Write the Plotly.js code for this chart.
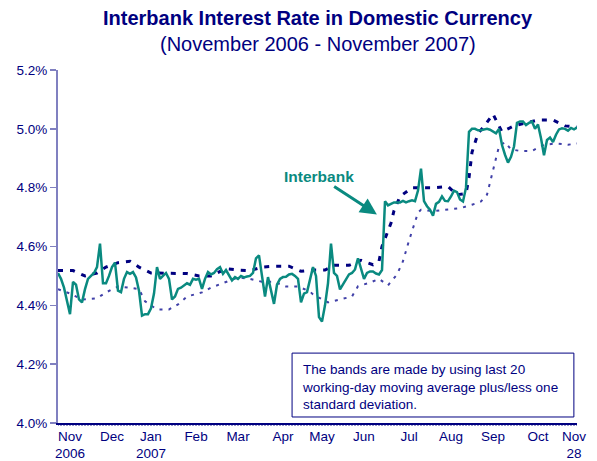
<!DOCTYPE html>
<html><head><meta charset="utf-8">
<script src="https://cdn.plot.ly/plotly-3.0.1.min.js"></script>
<style>html,body{margin:0;padding:0;background:#fff}#chart{width:597px;height:461px}</style>
</head><body><div id="chart"></div>
<script>
// Interbank rate, one reading per working-day step (Nov 2006 - Nov 28 2007), %
const interbank = [
 4.51,4.49,4.46,4.42,4.37,4.48,4.47,4.42,4.41,4.455,
 4.49,4.50,4.51,4.53,4.61,4.475,4.475,4.50,4.53,4.545,
 4.45,4.445,4.49,4.513,4.507,4.513,4.495,4.45,4.365,4.37,
 4.37,4.39,4.44,4.53,4.49,4.50,4.51,4.49,4.42,4.43,
 4.456,4.46,4.467,4.475,4.47,4.49,4.487,4.49,4.456,4.49,
 4.513,4.505,4.51,4.523,4.53,4.507,4.52,4.50,4.485,4.496,
 4.49,4.50,4.495,4.498,4.50,4.51,4.56,4.57,4.50,4.43,
 4.496,4.455,4.405,4.47,4.49,4.496,4.497,4.505,4.507,4.50,
 4.49,4.41,4.44,4.445,4.49,4.53,4.50,4.36,4.345,4.40,
 4.475,4.61,4.51,4.50,4.454,4.47,4.49,4.505,4.51,4.522,
 4.56,4.52,4.49,4.51,4.515,4.515,4.508,4.505,4.52,4.754,
 4.74,4.745,4.75,4.75,4.75,4.755,4.75,4.754,4.757,4.754,
 4.79,4.865,4.754,4.737,4.725,4.705,4.745,4.752,4.77,4.755,
 4.754,4.77,4.79,4.785,4.76,4.753,4.80,4.99,5.0,5.0,
 4.995,4.995,4.998,5.0,4.997,4.99,4.985,5.0,4.945,4.912,
 4.885,4.905,4.94,5.02,5.025,5.025,5.013,5.02,5.025,5.0,
 5.015,4.968,4.91,4.962,4.97,4.955,4.98,4.998,5.002,5.0,
 4.994,5.003,4.998,5.005
];
// Upper band (moving average + 1 sd): day step, value
const upperDay  = [0,5,9,13,16,20,24,27,31,35,39,43,47,51,56,60,64,68,72,77,81,85,89,92,97,101,105,107,108,111,112,114,118,121,126,130,133,136,137,138,140,142,145,148,152,156,160,165,169,173];
const upperBand = [4.518,4.518,4.50,4.51,4.53,4.545,4.55,4.53,4.51,4.51,4.508,4.508,4.50,4.50,4.525,4.52,4.518,4.53,4.533,4.533,4.516,4.52,4.52,4.536,4.536,4.553,4.538,4.55,4.60,4.68,4.722,4.77,4.80,4.80,4.80,4.804,4.776,4.78,4.834,4.92,4.985,5.008,5.05,4.99,5.01,5.02,5.03,5.03,5.01,5.006];
// Lower band (moving average - 1 sd)
const lowerDay  = [0,4,8,13,16,20,24,27,29,33,37,40,43,48,51,56,60,64,68,72,76,80,84,85,90,94,98,100,104,107,110,113,115,117,119,120,121,125,129,134,138,141,143,144,145,146,147,149,151,154,158,162,166,170,173];
const lowerBand = [4.455,4.44,4.42,4.424,4.444,4.464,4.46,4.455,4.414,4.386,4.386,4.403,4.43,4.444,4.46,4.478,4.495,4.49,4.48,4.48,4.464,4.464,4.447,4.437,4.41,4.42,4.43,4.465,4.477,4.49,4.468,4.505,4.55,4.62,4.68,4.715,4.725,4.72,4.725,4.73,4.742,4.753,4.776,4.82,4.86,4.90,4.94,4.955,4.93,4.925,4.925,4.946,4.95,4.946,4.95];
// Month tick labels
const tickDay  = [4,18,31,46,60,75,88,102,117,131,145,160,172];
const tickText = ['Nov<br>2006','Dec','Jan<br>2007','Feb','Mar','Apr','May','Jun','Jul','Aug','Sep','Oct','Nov<br>28'];

const day = interbank.map((v, i) => i);
const NAVY = '#000080';
const TEAL = '#0a8a80';
const FONT = 'Liberation Sans, Arial, sans-serif';

const traces = [
  {x: upperDay, y: upperBand, type: 'scatter', mode: 'lines', hoverinfo: 'skip',
   line: {color: NAVY, width: 3, dash: '5px,7px'}},
  {x: lowerDay, y: lowerBand, type: 'scatter', mode: 'lines', hoverinfo: 'skip',
   line: {color: '#4040a8', width: 2, dash: '3px,6px'}},
  {x: day, y: interbank, type: 'scatter', mode: 'lines',
   line: {color: TEAL, width: 2.5}}
];

// daily tick comb under the x axis, one mark per working-day step
const comb = day.map(d => ({type: 'line', xref: 'x', yref: 'paper', x0: d, x1: d,
  y0: 0, y1: -0.008, line: {color: NAVY, width: 1}}));

const layout = {
  width: 597, height: 461,
  margin: {l: 58, r: 20, t: 70, b: 38},
  paper_bgcolor: '#fff', plot_bgcolor: '#fff',
  showlegend: false,
  font: {family: FONT, color: NAVY},
  xaxis: {
    range: [0, 173], showgrid: false, zeroline: false,
    showline: true, linecolor: NAVY, linewidth: 1.5,
    tickmode: 'array', tickvals: tickDay, ticktext: tickText,
    ticks: '', tickfont: {family: FONT, size: 13.5, color: NAVY}
  },
  yaxis: {
    range: [4.0, 5.2], dtick: 0.2, tick0: 4.0, tickformat: '.1f', ticksuffix: '%',
    showgrid: false, zeroline: false,
    showline: true, linecolor: '#8080c0', linewidth: 2,
    ticks: 'outside', ticklen: 6, tickcolor: '#8080c0', tickwidth: 1.5,
    tickfont: {family: FONT, size: 13.5, color: NAVY}
  },
  shapes: comb.concat([
    {type: 'rect', xref: 'paper', yref: 'paper', x0: 0.451, x1: 0.994, y0: 0.017, y1: 0.198,
     line: {color: NAVY, width: 1}, fillcolor: '#fff', layer: 'above'}
  ]),
  annotations: [
    {x: 0.5, y: 1.147, xref: 'paper', yref: 'paper', xanchor: 'center', yanchor: 'middle',
     text: '<b>Interbank Interest Rate in Domestic Currency</b>', showarrow: false,
     font: {family: FONT, size: 20, color: NAVY}},
    {x: 0.5, y: 1.0737, xref: 'paper', yref: 'paper', xanchor: 'center', yanchor: 'middle',
     text: '(November 2006 - November 2007)', showarrow: false,
     font: {family: FONT, size: 20, color: NAVY}},
    {x: 106.3, y: 4.709, xref: 'x', yref: 'y', text: '<b>Interbank</b>',
     showarrow: true, ax: -58, ay: -38, arrowhead: 2, arrowsize: 1.1, arrowwidth: 3,
     arrowcolor: TEAL, font: {family: FONT, size: 15.5, color: TEAL}},
    {x: 0.466, y: 0.1006, xref: 'paper', yref: 'paper', xanchor: 'left', yanchor: 'middle',
     text: 'The bands are made by using last 20<br>working-day moving average plus/less one<br>standard deviation.',
     showarrow: false, align: 'left',
     font: {family: FONT, size: 13.5, color: NAVY}}
  ]
};

Plotly.newPlot('chart', traces, layout, {displayModeBar: false, staticPlot: true});
</script>
</body></html>
